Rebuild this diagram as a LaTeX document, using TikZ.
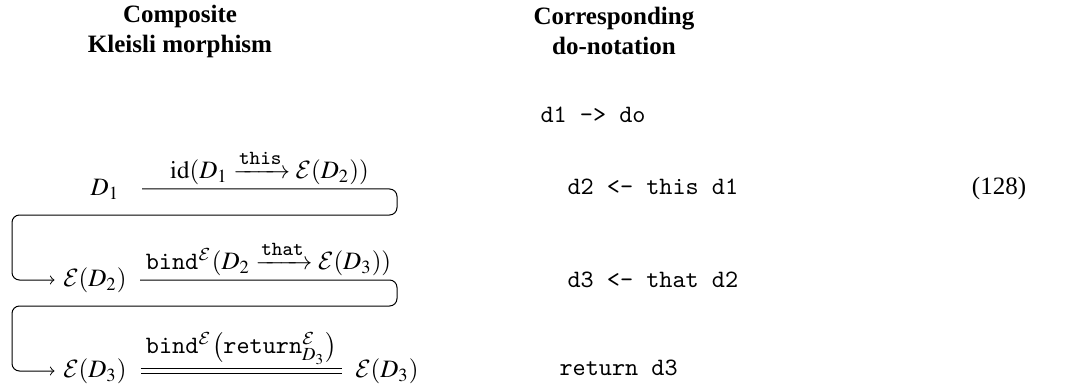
\documentclass[tikz,border=0pt]{standalone}
\usepackage{amsmath}
\usepackage{mathptmx}
\DeclareMathAlphabet{\mathcal}{OMS}{cmsy}{m}{n}
\usepackage{fontspec}
\setmainfont{Liberation Serif}
\usetikzlibrary{calc}

\newcommand{\arrlbl}[1]{\text{\footnotesize\ttfamily #1}}

\begin{document}
\begin{tikzpicture}[x=0.4pt,y=-0.4pt,
  head/.style={align=center,font=\bfseries},
  code/.style={anchor=west,inner sep=0pt,font=\ttfamily},
  loopline/.style={->,rounded corners=3pt},
  lbl/.style={above,inner sep=1.5pt}]
\useasboundingbox (0,0) rectangle (1073,386);

\node[head] (kl) at (180,31) {Composite\\Kleisli morphism};
\node[head] (dn) at (614,31) {Corresponding\\do-notation};

% left column: the composite
\node (d1) at (105,189) {$D_1$};
\node (ed2) at (95,280) {$\mathcal{E}(D_2)$};
\node (ed3) at (95,371) {$\mathcal{E}(D_3)$};
\node (ed3r) at (387,371) {$\mathcal{E}(D_3)$};

\coordinate (a1) at (142,189); \coordinate (b1) at (397,189);
\coordinate (r1) at (397,215); \coordinate (l1) at (12,215);
\coordinate (a2) at (140,280); \coordinate (b2) at (397,280);
\coordinate (r2) at (397,306); \coordinate (l2) at (12,306);

\draw[loopline] (a1) -- node[lbl] {$\mathrm{id}(D_1 \xrightarrow{\arrlbl{this}} \mathcal{E}(D_2))$} (b1)
  -- (r1) -- (l1) |- (ed2.west);
\draw[loopline] (a2) -- node[lbl] {$\mathtt{bind}^{\mathcal{E}}(D_2 \xrightarrow{\arrlbl{that}} \mathcal{E}(D_3))$} (b2)
  -- (r2) -- (l2) |- (ed3.west);
\draw[double,double distance=1.5pt] ($(ed3.east)+(5,0)$)
  -- node[lbl,yshift=1pt] {$\mathtt{bind}^{\mathcal{E}}\bigl(\mathtt{return}^{\mathcal{E}}_{D_3}\bigr)$} ($(ed3r.west)+(-4,0)$);

% right column: the do-block
\node[code] (c1) at (540,115) {d1 -> do};
\node[code] (c2) at (567,187) {d2 <- this d1};
\node[code] (c3) at (567,280) {d3 <- that d2};
\node[code] (c4) at (559,368) {return d3};

\node (eqno) at (999,188) {(128)};

\end{tikzpicture}
\end{document}
